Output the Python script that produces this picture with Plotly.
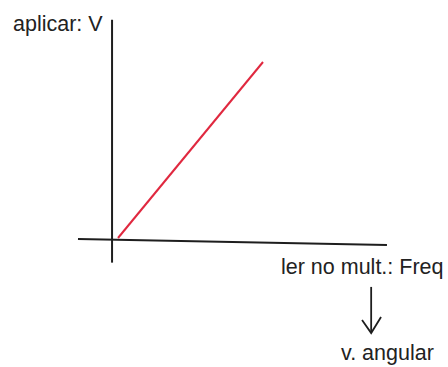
import plotly.graph_objects as go

# Linear relation sketched: applied voltage vs frequency read on the multimeter
freq = [0.0, 1.0]
voltage = [0.0, 1.0]

# Hand-drawn axis strokes (in the same data units as the line)
y_axis_x = [-0.041, -0.041]
y_axis_y = [1.24, -0.14]
x_axis_x = [-0.276, 1.855]
x_axis_y = [-0.006, -0.040]

# Arrow stroke from "Freq" down to "v. angular"
arrow_x = [1.746, 1.746]
arrow_y = [-0.278, -0.540]
head_x = [1.683, 1.746, 1.814]
head_y = [-0.466, -0.540, -0.449]

labels = ["aplicar: V", "ler no mult.: Freq", "v. angular"]

ink = "#1e1e1e"
fig = go.Figure()
fig.add_trace(go.Scatter(x=y_axis_x, y=y_axis_y, mode="lines",
                         line=dict(color=ink, width=2)))
fig.add_trace(go.Scatter(x=x_axis_x, y=x_axis_y, mode="lines",
                         line=dict(color=ink, width=2)))
fig.add_trace(go.Scatter(x=freq, y=voltage, mode="lines",
                         line=dict(color="#e0283f", width=2)))
fig.add_trace(go.Scatter(x=arrow_x, y=arrow_y, mode="lines",
                         line=dict(color=ink, width=1.8)))
fig.add_trace(go.Scatter(x=head_x, y=head_y, mode="lines",
                         line=dict(color=ink, width=1.8)))

font = dict(family="Liberation Sans, Arial, sans-serif", size=21.5, color="#222")
fig.add_annotation(text=labels[0], x=11 / 448, y=1 - 24 / 367, xref="paper", yref="paper",
                   xanchor="left", yanchor="middle", showarrow=False, font=font)
fig.add_annotation(text=labels[1], x=279 / 448, y=1 - 267 / 367, xref="paper", yref="paper",
                   xanchor="left", yanchor="middle", showarrow=False, font=font)
fig.add_annotation(text=labels[2], x=339 / 448, y=1 - 353 / 367, xref="paper", yref="paper",
                   xanchor="left", yanchor="middle", showarrow=False, font=font)

fig.update_layout(
    width=448, height=367,
    margin=dict(l=0, r=0, t=0, b=0),
    paper_bgcolor="white", plot_bgcolor="white",
    showlegend=False,
    xaxis=dict(range=[-0.8138, 2.2759], visible=False, fixedrange=True),
    yaxis=dict(range=[-0.7330, 1.3523], visible=False, fixedrange=True),
)

fig.write_html("out.html")
